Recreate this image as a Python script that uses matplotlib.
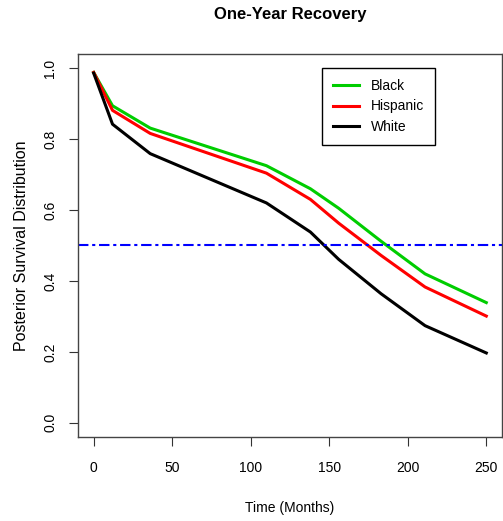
import numpy as np
import matplotlib
matplotlib.use("Agg")
import matplotlib.pyplot as plt

plt.rcParams['font.family'] = ['Liberation Sans', 'DejaVu Sans']

# survival curves (time in months)
time = [0, 12, 36, 110, 138, 156, 183, 211, 250]
black = [0.988, 0.894, 0.831, 0.725, 0.660, 0.605, 0.512, 0.420, 0.339]
hispanic = [0.988, 0.881, 0.816, 0.704, 0.630, 0.563, 0.472, 0.383, 0.301]
white = [0.986, 0.842, 0.759, 0.620, 0.538, 0.461, 0.364, 0.274, 0.197]
median_line = 0.5

xticks = [0, 50, 100, 150, 200, 250]
yticks = [0.0, 0.2, 0.4, 0.6, 0.8, 1.0]

fig = plt.figure(figsize=(5.03, 5.21), dpi=100)
ax = fig.add_axes([0.155, 0.1612, 0.843, 0.7352])

ax.plot(time, black, color='#00CD00', lw=2.2, label='Black')
ax.plot(time, hispanic, color='#FF0000', lw=2.2, label='Hispanic')
ax.plot(time, white, color='black', lw=2.2, label='White')
ax.axhline(median_line, color='#0000FF', lw=1.5, linestyle=(0, (5, 1.8, 1.5, 1.8)))

ax.set_xlim(-10, 260)
ax.set_ylim(-0.04, 1.04)
ax.set_xticks(xticks)
ax.set_yticks(yticks)
ax.set_yticklabels([f'{v:.1f}' for v in yticks], rotation=90, va='center')
ax.tick_params(axis='both', direction='out', length=6.5, width=0.8,
               colors='#333333', labelcolor='black', labelsize=10)
ax.tick_params(axis='x', pad=10.5)
ax.tick_params(axis='y', pad=8.5)
for s in ax.spines.values():
    s.set_color('#444444')
    s.set_linewidth(1)

ax.set_xlabel('Time (Months)', fontsize=10)
ax.xaxis.set_label_coords(0.5, -0.168)
ax.set_ylabel('Posterior Survival Distribution', fontsize=11.5, va='center')
ax.yaxis.set_label_coords(-0.132, 0.5)
ax.set_title('One-Year Recovery', fontsize=12, fontweight='bold',
             y=1.102, pad=0, va='center')

leg = ax.legend(loc='upper left', bbox_to_anchor=(0.575, 0.964), fontsize=10,
                fancybox=False, framealpha=1, edgecolor='black',
                handlelength=1.9, handletextpad=0.85, borderpad=0.8,
                labelspacing=0.47, borderaxespad=0)
leg.get_frame().set_linewidth(1)

fig.savefig('out.png', dpi=100)
